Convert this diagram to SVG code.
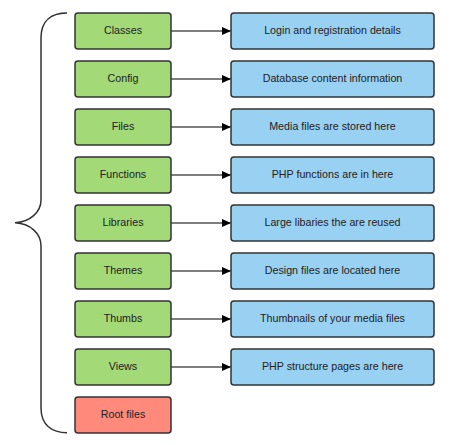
<svg xmlns="http://www.w3.org/2000/svg" width="452" height="445" viewBox="0 0 452 445">
<defs>
<style>
.g{fill:#a3d977;stroke:#333;stroke-width:1.5}
.b{fill:#99d1f3;stroke:#333;stroke-width:1.5}
.r{fill:#ff8a7c;stroke:#333;stroke-width:1.5}
text{font-family:"Liberation Sans",Arial,sans-serif;font-size:10.7px;fill:#222;text-anchor:middle;dominant-baseline:central}
.c{stroke:#555;stroke-width:1.5;fill:none}
.br{stroke:#333;stroke-width:1.5;fill:none}
</style>
<marker id="ah" markerWidth="10" markerHeight="8" refX="9" refY="4" orient="auto" markerUnits="userSpaceOnUse">
<path d="M0,0 L9,4 L0,8 Z" fill="#000"/>
</marker>
</defs>
<rect width="452" height="445" fill="#fff"/>
<g id="brace"><path class="br" d="M67,13 C52,13 41,20 41,38 L41,200 C41,212 30,222 15,222.8 C30,223.6 41,233 41,246 L41,408 C41,425 52,432.7 67,432.7"/></g>
<g id="connectors">
<path class="c" d="M171,31 L231,31" marker-end="url(#ah)"/>
<path class="c" d="M171,79 L231,79" marker-end="url(#ah)"/>
<path class="c" d="M171,127 L231,127" marker-end="url(#ah)"/>
<path class="c" d="M171,175 L231,175" marker-end="url(#ah)"/>
<path class="c" d="M171,223 L231,223" marker-end="url(#ah)"/>
<path class="c" d="M171,271 L231,271" marker-end="url(#ah)"/>
<path class="c" d="M171,319 L231,319" marker-end="url(#ah)"/>
<path class="c" d="M171,367 L231,367" marker-end="url(#ah)"/>
</g>
<g id="classes"><rect class="g" x="75" y="13" width="96" height="36" rx="3"/><text x="123" y="30">Classes</text></g>
<g id="config"><rect class="g" x="75" y="61" width="96" height="36" rx="3"/><text x="123" y="78">Config</text></g>
<g id="files"><rect class="g" x="75" y="109" width="96" height="36" rx="3"/><text x="123" y="126">Files</text></g>
<g id="functions"><rect class="g" x="75" y="157" width="96" height="36" rx="3"/><text x="123" y="174">Functions</text></g>
<g id="libraries"><rect class="g" x="75" y="205" width="96" height="36" rx="3"/><text x="123" y="222">Libraries</text></g>
<g id="themes"><rect class="g" x="75" y="253" width="96" height="36" rx="3"/><text x="123" y="270">Themes</text></g>
<g id="thumbs"><rect class="g" x="75" y="301" width="96" height="36" rx="3"/><text x="123" y="318">Thumbs</text></g>
<g id="views"><rect class="g" x="75" y="349" width="96" height="36" rx="3"/><text x="123" y="366">Views</text></g>
<g id="rootfiles"><rect class="r" x="75" y="397" width="96" height="36" rx="3"/><text x="123" y="414">Root files</text></g>
<g id="d-classes"><rect class="b" x="231" y="13" width="203" height="36" rx="3"/><text x="332.5" y="30">Login and registration details</text></g>
<g id="d-config"><rect class="b" x="231" y="61" width="203" height="36" rx="3"/><text x="332.5" y="78">Database content information</text></g>
<g id="d-files"><rect class="b" x="231" y="109" width="203" height="36" rx="3"/><text x="332.5" y="126">Media files are stored here</text></g>
<g id="d-functions"><rect class="b" x="231" y="157" width="203" height="36" rx="3"/><text x="332.5" y="174">PHP functions are in here</text></g>
<g id="d-libraries"><rect class="b" x="231" y="205" width="203" height="36" rx="3"/><text x="332.5" y="222">Large libaries the are reused</text></g>
<g id="d-themes"><rect class="b" x="231" y="253" width="203" height="36" rx="3"/><text x="332.5" y="270">Design files are located here</text></g>
<g id="d-thumbs"><rect class="b" x="231" y="301" width="203" height="36" rx="3"/><text x="332.5" y="318">Thumbnails of your media files</text></g>
<g id="d-views"><rect class="b" x="231" y="349" width="203" height="36" rx="3"/><text x="332.5" y="366">PHP structure pages are here</text></g>
</svg>
